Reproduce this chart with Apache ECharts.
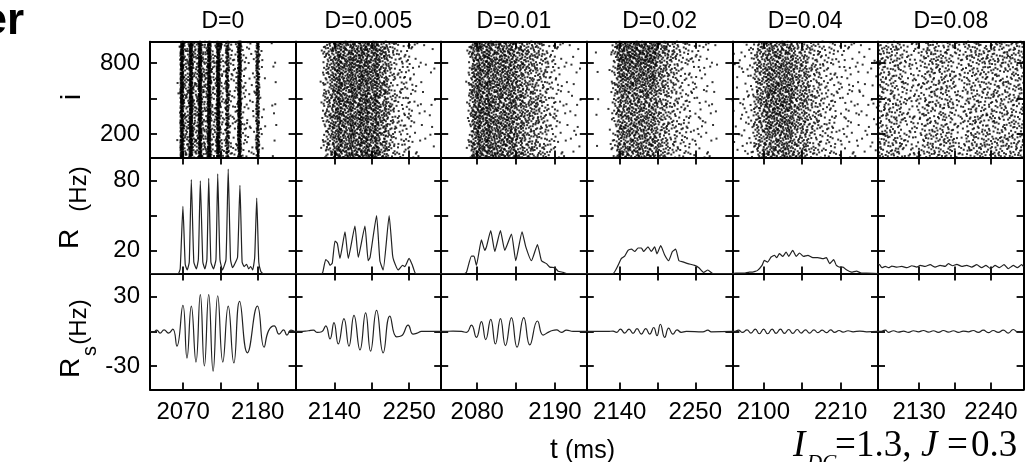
<!DOCTYPE html>
<html>
<head>
<meta charset="utf-8">
<script src="https://cdn.jsdelivr.net/npm/echarts@6/dist/echarts.min.js"></script>
<style>
html,body{margin:0;padding:0;background:#fff;}
#chart{width:1028px;height:462px;}
</style>
</head>
<body>
<div id="chart"></div>
<script>
// ---------- data ----------
const panelTitles = ['D=0', 'D=0.005', 'D=0.01', 'D=0.02', 'D=0.04', 'D=0.08'];

// time axis (ms) of each column
const timeRanges = [[2021, 2236], [2083, 2297], [2029, 2235], [2092, 2304], [2056, 2263], [2067, 2290]];
const timeTicks = [[2070, 2125, 2180], [2140, 2195, 2250], [2080, 2135, 2190], [2140, 2195, 2250], [2100, 2155, 2210], [2130, 2185, 2240]];
const timeTickLabels = [[2070, 2180], [2140, 2250], [2080, 2190], [2140, 2250], [2100, 2210], [2130, 2240]];

const neuronRange = [0, 980];
const neuronTicks = [200, 500, 800];
const neuronTickLabels = [200, 800];
const rateRange = [0, 100];
const rateTicks = [20, 50, 80];
const rateTickLabels = [20, 80];
const rsRange = [-50, 50];
const rsTicks = [-30, 0, 30];
const rsTickLabels = [-30, 30];

// raster plots: spike density read per time bin (48 equal bins over the column's time range),
// one digit = density level; band weights = relative density of 5 neuron bands (1-200 ... 801-1000)
const rasterD0   = "000000000195595595594494383339332228210011000000";
const rasterD005 = "000000001455667666766767667656544333332211101100";
const rasterD001 = "000000001466766766666666656555554443332211111100";
const rasterD002 = "000100013466666666666665555444333322221211100000";
const rasterD004 = "111222345556666666665555544443333322222212111111";
const rasterD008 = "444444443333333444444444433334444444444444444444";
const rasterLevels = [0, 4, 10, 20, 33, 52, 78, 115, 170, 300]; // spikes per bin for each density digit
const bandsD0   = [1, 1, 1, 1, 1];
const bandsD005 = [1, 1, 1, 1, 1];
const bandsD001 = [1, 1, 1, 1, 1];
const bandsD002 = [1, 1, 1, 1.2, 1.4];
const bandsD004 = [1, 1.1, 1.2, 1.1, 1];
const bandsD008 = [1.2, 1, 1, 1, 1.2];

// population rate R (Hz): [t, R]
const R_D0 = [[2021,0],[2062.6,0],[2065.6,4],[2069.6,58],[2073,8],[2076,3],[2079,10],[2082,81],[2085.7,10],[2089.4,4],[2092.4,12],[2095.3,80],[2099,10],[2102,4],[2105,12],[2107.7,82],[2110.9,10],[2114.7,4],[2118.4,12],[2121,86],[2124.3,12],[2128,3],[2133.2,12],[2136.5,90],[2139.9,12],[2142.9,5],[2145.9,8],[2150.3,14],[2153.8,76],[2157,10],[2160,6],[2163.7,8],[2166.7,4],[2169.7,6],[2172.6,3],[2175.6,14],[2178.6,65],[2181.6,10],[2184.5,2],[2187.5,0],[2236,0]];
const R_D005 = [[2083,0],[2121,0],[2122.9,1],[2127.3,12],[2131.1,10],[2133.6,7],[2136.9,9],[2140.9,28],[2144.3,26],[2148.2,13],[2155.6,36],[2160.4,13],[2170.2,41],[2175.1,14],[2184.9,41],[2189.7,11],[2192.5,14],[2202,50],[2206.9,11],[2211.7,3],[2220.5,50],[2225.5,16],[2227.4,11],[2233.7,3],[2240.2,7],[2243.5,6],[2249.8,13],[2254.8,7],[2259.7,0],[2297,0]];
const R_D001 = [[2029,0],[2062,0],[2064.7,1],[2071.8,15],[2075.4,15],[2078.8,7],[2085.9,29],[2090.6,20],[2093,23],[2099.1,37],[2104.8,19],[2112.8,37],[2118.9,20],[2128.4,34],[2134.5,11],[2143.4,36],[2148.7,23],[2156.7,11],[2165.2,25],[2170.9,11],[2178,8.5],[2182.6,5.5],[2189.7,5],[2194.4,2],[2201.5,1],[2206.3,0],[2235,0]];
const R_D002 = [[2092,0],[2130.2,0],[2137.5,7],[2142.4,13],[2147.2,15],[2152,20],[2157,21],[2161.8,19],[2166.6,22],[2171.5,22],[2174.8,19],[2181.1,23],[2186,19],[2190.8,23],[2194.2,17],[2199.6,24],[2205.4,16],[2211.2,11],[2216.6,19],[2221.4,21],[2226.2,11],[2232,10],[2239.2,8.5],[2249,7],[2255.2,5],[2262.1,1],[2268.3,3],[2275.6,0],[2304,0]];
const R_D004 = [[2056,0],[2061,0.3],[2072.8,0.3],[2080,1.2],[2084.7,1.2],[2091.8,2.7],[2098.1,7],[2101.4,11.3],[2106.1,9.9],[2111,14.2],[2115.7,15.7],[2119,13.7],[2122.8,17.1],[2127.6,14.8],[2132.4,18.5],[2136.1,14.8],[2141.8,20],[2146.7,14.8],[2151.4,17.7],[2157.1,14.8],[2163.3,15.7],[2170.4,13.7],[2177.6,13.7],[2184.7,12.8],[2189.6,13.7],[2194.3,8.5],[2200,11.9],[2203.8,7],[2208.6,5.5],[2213.3,5.5],[2218.1,3.2],[2225.3,1.2],[2232.4,2.1],[2239.6,0.3],[2246.7,0.3],[2263,0]];
const R_D008 = [[2067,8.5],[2069.4,7.6],[2073,5],[2078.1,6.1],[2083.1,5],[2088.3,6.4],[2096,5.5],[2103.6,6.1],[2111.3,5],[2118.9,6.7],[2126.5,5.5],[2131.6,7],[2139.2,6.1],[2146.9,7.6],[2154.5,5.5],[2162.1,7],[2169.8,6.1],[2174.8,8.5],[2181.5,6.7],[2187.7,7.9],[2195.3,6.1],[2202.9,7],[2210.6,5.5],[2218.2,7.6],[2225.8,5],[2232.4,7],[2239.6,4.1],[2246.2,7],[2252.8,5],[2260,7.6],[2266.5,4.1],[2274.1,7],[2280.3,5],[2286.9,7.6],[2290,6]];

// filtered rate Rs (Hz): [t, Rs]
const Rs_D0 = [[2021,0],[2025.9,-0.8],[2031,1.1],[2035.9,-1.4],[2041.8,1.4],[2048.2,-1.4],[2054.7,2],[2060.7,-12.7],[2069.6,22.6],[2075.6,-23],[2082,21.8],[2088.9,-26.4],[2095.3,31.7],[2101.3,-29.8],[2107.7,31.7],[2114.2,-34.3],[2121,30.8],[2128.5,-26.4],[2136.5,21.8],[2144.8,-27.2],[2153.3,26],[2164.8,-18.4],[2179.6,21.8],[2189.4,-13.6],[2196,0.5],[2204.3,4.8],[2211.7,-2.3],[2218.3,1.4],[2223.2,-3.1],[2229.1,1.1],[2235.5,-0.3]];
const Rs_D005 = [[2083,0],[2089.6,0],[2101.8,0.6],[2109.1,1.1],[2115,-0.8],[2121.4,-0.3],[2127.3,4.8],[2133.6,-6.5],[2139.4,7.6],[2145.7,-10.8],[2154.1,11],[2161.4,-12.7],[2168.8,13.8],[2177.6,-15.9],[2185.9,16.1],[2193.2,-17],[2202,18.1],[2211.7,-18.4],[2221.5,13.3],[2231.4,-4.6],[2238.7,-3.7],[2248.4,5.4],[2255.7,-2.3],[2261.6,-1.5],[2268,0],[2297,0]];
const Rs_D001 = [[2029,0],[2031.5,0],[2045.7,0.3],[2057.6,0],[2064.7,-0.8],[2071.8,5.4],[2078.8,-5.1],[2085.9,8.5],[2092,-7.1],[2099.1,10.5],[2105.7,-10.8],[2112.8,11],[2119.9,-12.2],[2128.4,11.9],[2136.3,-13.6],[2145.8,11.9],[2154.3,-11.6],[2165.2,9],[2173.1,-3.1],[2180.2,-0.8],[2185,0.6],[2192.1,1.4],[2199.2,-0.8],[2206.3,1.1],[2215.6,0],[2235,0]];
const Rs_D002 = [[2092,0],[2123,0],[2130.2,0.3],[2135.2,-0.8],[2141,2],[2147.2,-1.4],[2153.5,2],[2159.3,-1.7],[2165.1,2.5],[2171.5,-2.3],[2177.8,2.5],[2183.6,-2.3],[2189.4,3.4],[2194.2,-3.7],[2199.1,6.2],[2205.4,-5.1],[2211.2,2.8],[2217.4,-2.3],[2223.3,1.4],[2229.6,-0.8],[2236.9,0],[2261,-0.3],[2268.3,1.1],[2273.2,-0.3],[2304,0]];
const Rs_D004 = [[2056,0],[2058.6,0],[2064.7,1.1],[2070.4,-0.8],[2076.7,1.4],[2082.4,-1.4],[2088.6,2],[2094.3,-2],[2100.4,2],[2106.1,-2],[2112.4,2],[2118.1,-1.7],[2124.3,2],[2130,-1.7],[2136.1,1.7],[2141.8,-1.7],[2148.1,1.7],[2153.8,-1.4],[2160,1.4],[2165.7,-1.4],[2171.9,1.4],[2177.6,-1.1],[2183.8,1.1],[2189.6,-1.1],[2195.7,1.4],[2201.4,-0.8],[2207.6,0.8],[2213.3,-0.6],[2220.4,0.6],[2227.6,-0.3],[2237.1,0.3],[2246.7,-0.3],[2263,0]];
const Rs_D008 = [[2067,0],[2070.5,0],[2078.1,1.1],[2083.1,-0.8],[2090.8,0.6],[2098.4,-0.6],[2106.1,0.3],[2113.7,-0.8],[2121.3,0.6],[2129,-0.3],[2136.6,0.8],[2144.3,-0.6],[2151.9,0.6],[2159.5,-0.8],[2167.2,0.8],[2174.8,-0.6],[2182.5,0.6],[2190.1,-0.8],[2197.7,0.3],[2205.4,-0.3],[2213,0.8],[2220.7,-0.8],[2228.3,1.1],[2235.9,-1.1],[2243.6,0.8],[2251.2,-0.8],[2258.9,1.1],[2266.5,-1.4],[2274.1,1.7],[2281.8,-0.8],[2289.4,0.3]];

// ---------- assembly ----------
const rasters = [rasterD0, rasterD005, rasterD001, rasterD002, rasterD004, rasterD008];
const bands = [bandsD0, bandsD005, bandsD001, bandsD002, bandsD004, bandsD008];
const rates = [R_D0, R_D005, R_D001, R_D002, R_D004, R_D008];
const filtered = [Rs_D0, Rs_D005, Rs_D001, Rs_D002, Rs_D004, Rs_D008];

// The read spike count of each (time bin, neuron band) cell is laid out by taking, in order,
// the points of a fixed 2-D Halton pattern that fall into that cell (deterministic layout).
function halton(i, base) {
  let f = 1, r = 0;
  while (i > 0) { f /= base; r += f * (i % base); i = Math.floor(i / base); }
  return r;
}
function rasterPoints(density, weights, range) {
  const nb = density.length, nk = weights.length;
  const wsum = weights.reduce((a, b) => a + b, 0);
  const quota = [], used = [];
  for (let k = 0; k < nb; k++) {
    const total = rasterLevels[+density[k]];
    for (let b = 0; b < nk; b++) { quota.push(Math.round(total * weights[b] / wsum)); used.push(0); }
  }
  const pts = [];
  for (let g = 1; g < 110000; g++) {
    const U = halton(g, 2), V = halton(g, 3);
    const cell = Math.floor(U * nb) * nk + Math.floor(V * nk);
    if (used[cell] < quota[cell]) {
      used[cell]++;
      pts.push([range[0] + U * (range[1] - range[0]), 1000 * V]);
    }
  }
  return pts;
}

const SANS = '"Liberation Sans", Arial, Helvetica, sans-serif';
const SERIF = '"Liberation Serif", "Times New Roman", serif';
const colLeft = 150, colW = 145.6, rowTop = 41.7, rowH = 115.9;

const grids = [], xAxes = [], yAxes = [], series = [];
const yRanges = [neuronRange, rateRange, rsRange];
const yTicks = [neuronTicks, rateTicks, rsTicks];
const yTickLabels = [neuronTickLabels, rateTickLabels, rsTickLabels];

function lineAxis() { return {show: true, onZero: false, lineStyle: {color: '#000', width: 2}}; }
function tickCfg(vals) { return {show: true, inside: true, length: 7, lineStyle: {color: '#000', width: 1.8}, customValues: vals}; }
function labelCfg(vals, isX) {
  return {show: true, customValues: vals, color: '#000', fontSize: 24, fontFamily: SANS, margin: isX ? 11 : 10,
    formatter: function (v) { return String(v); }};
}

for (let r = 0; r < 3; r++) {
  for (let c = 0; c < 6; c++) {
    const gi = r * 6 + c;
    grids.push({left: colLeft + c * colW, top: rowTop + r * rowH, width: colW, height: rowH, containLabel: false, outerBoundsMode: 'none'});
    xAxes.push({type: 'value', gridIndex: gi, position: 'bottom', min: timeRanges[c][0], max: timeRanges[c][1],
      axisLine: lineAxis(), axisTick: tickCfg(timeTicks[c]),
      axisLabel: r === 2 ? labelCfg(timeTickLabels[c], true) : {show: false}, splitLine: {show: false}});
    xAxes.push({type: 'value', gridIndex: gi, position: 'top', min: timeRanges[c][0], max: timeRanges[c][1],
      axisLine: lineAxis(), axisTick: tickCfg(timeTicks[c]), axisLabel: {show: false}, splitLine: {show: false}});
    yAxes.push({type: 'value', gridIndex: gi, position: 'left', min: yRanges[r][0], max: yRanges[r][1],
      axisLine: lineAxis(), axisTick: tickCfg(yTicks[r]),
      axisLabel: c === 0 ? labelCfg(yTickLabels[r], false) : {show: false}, splitLine: {show: false}});
    yAxes.push({type: 'value', gridIndex: gi, position: 'right', min: yRanges[r][0], max: yRanges[r][1],
      axisLine: lineAxis(), axisTick: tickCfg(yTicks[r]), axisLabel: {show: false}, splitLine: {show: false}});

    if (r === 0) {
      series.push({type: 'scatter', xAxisIndex: 2 * gi, yAxisIndex: 2 * gi, symbol: 'rect', symbolSize: 2,
        itemStyle: {color: '#000'}, silent: true, clip: true,
        data: rasterPoints(rasters[c], bands[c], timeRanges[c])});
    } else if (r === 1) {
      series.push({type: 'line', xAxisIndex: 2 * gi, yAxisIndex: 2 * gi, showSymbol: false, symbol: 'none',
        smooth: 0.15, lineStyle: {color: '#222', width: 1.2}, silent: true, clip: true, data: rates[c]});
    } else {
      series.push({type: 'line', xAxisIndex: 2 * gi, yAxisIndex: 2 * gi, showSymbol: false, symbol: 'none',
        smooth: 0.5, lineStyle: {color: '#222', width: 1.2}, silent: true, clip: true, data: filtered[c]});
    }
  }
}

function txt(x, y, text, font, align, valign, rot) {
  return {type: 'text', x: x, y: y, rotation: rot || 0, silent: true, z: 10,
    style: {text: text, font: font, fill: '#000', align: align, textAlign: align,
      verticalAlign: valign, textVerticalAlign: valign}};
}
const graphics = [];
panelTitles.forEach((t, c) => graphics.push(txt(colLeft + c * colW + colW / 2, 22, t, '23px ' + SANS, 'center', 'middle')));
const R90 = Math.PI / 2;
graphics.push(txt(72, 97, 'i', '28px ' + SANS, 'center', 'middle', R90));
graphics.push(txt(70, 239, 'R', '28px ' + SANS, 'center', 'middle', R90));
graphics.push(txt(79, 189, '(Hz)', '24px ' + SANS, 'center', 'middle', R90));
graphics.push(txt(71, 368, 'R', '28px ' + SANS, 'center', 'middle', R90));
graphics.push(txt(90, 351, 's', '20px ' + SANS, 'center', 'middle', R90));
graphics.push(txt(79, 322, '(Hz)', '24px ' + SANS, 'center', 'middle', R90));
graphics.push(txt(24, 21.5, 'er', 'bold 44px ' + SANS, 'right', 'middle'));
graphics.push(txt(550, 450, 't', '28px ' + SANS, 'left', 'middle'));
graphics.push(txt(565, 451, '(ms)', '25px ' + SANS, 'left', 'middle'));
graphics.push(txt(793, 446.5, 'I', 'italic 37px ' + SERIF, 'left', 'middle'));
graphics.push(txt(807, 463, 'DC', 'italic 21px ' + SERIF, 'left', 'middle'));
graphics.push(txt(835, 446.5, '=', '37px ' + SERIF, 'left', 'middle'));
graphics.push(txt(856, 446.5, '1.3,', '37px ' + SERIF, 'left', 'middle'));
graphics.push(txt(921, 446.5, 'J', 'italic 37px ' + SERIF, 'left', 'middle'));
graphics.push(txt(947, 446.5, '=', '37px ' + SERIF, 'left', 'middle'));
graphics.push(txt(971, 446.5, '0.3', '37px ' + SERIF, 'left', 'middle'));

const chart = echarts.init(document.getElementById('chart'), null, {renderer: 'canvas'});
chart.setOption({
  backgroundColor: '#fff',
  animation: false,
  grid: grids,
  xAxis: xAxes,
  yAxis: yAxes,
  series: series,
  graphic: graphics
});
</script>
</body>
</html>
